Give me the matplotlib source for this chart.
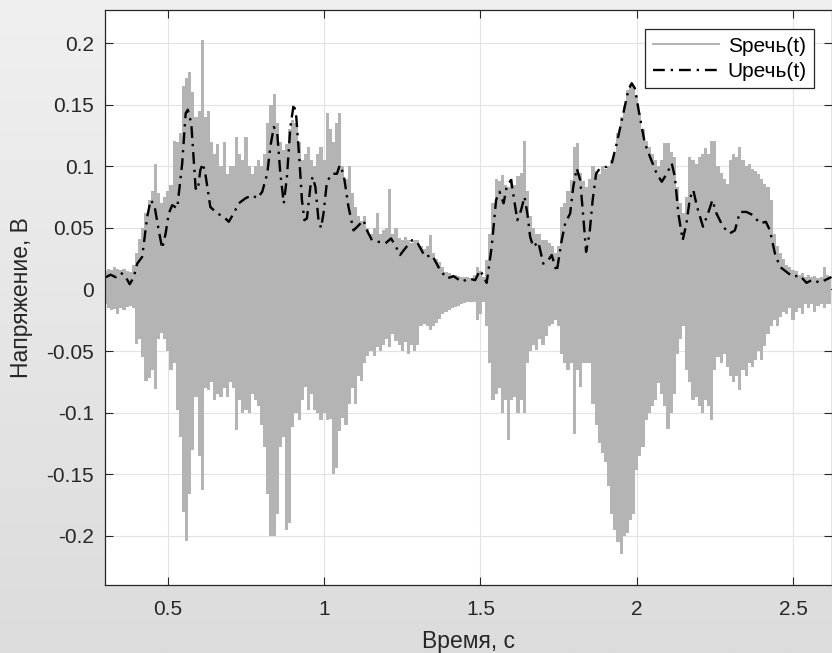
import numpy as np
import matplotlib
matplotlib.use('Agg')
import matplotlib.pyplot as plt
from matplotlib.colors import LinearSegmentedColormap

plt.rcParams['font.family'] = ['Liberation Sans', 'DejaVu Sans']

# speech signal: positive / negative peak per 10 ms bin, starting at 0.30 s
t0, dt = 0.30, 0.01
s_hi = [
    0.015, 0.017, 0.016, 0.018, 0.017, 0.016, 0.017, 0.015, 0.014, 0.020,
    0.030, 0.041, 0.050, 0.062, 0.073, 0.080, 0.102, 0.078, 0.070, 0.075,
    0.080, 0.085, 0.121, 0.120, 0.127, 0.165, 0.172, 0.177, 0.160, 0.140,
    0.145, 0.203, 0.140, 0.145, 0.120, 0.110, 0.118, 0.100, 0.120, 0.094,
    0.100, 0.100, 0.124, 0.110, 0.105, 0.124, 0.100, 0.094, 0.100, 0.105,
    0.100, 0.110, 0.135, 0.150, 0.159, 0.135, 0.120, 0.113, 0.118, 0.130,
    0.138, 0.135, 0.120, 0.105, 0.110, 0.116, 0.105, 0.100, 0.110, 0.116,
    0.105, 0.143, 0.130, 0.120, 0.135, 0.143, 0.100, 0.090, 0.100, 0.078,
    0.067, 0.060, 0.056, 0.060, 0.050, 0.045, 0.050, 0.062, 0.045, 0.048,
    0.050, 0.082, 0.045, 0.050, 0.042, 0.040, 0.043, 0.040, 0.038, 0.040,
    0.040, 0.035, 0.033, 0.035, 0.044, 0.030, 0.025, 0.022, 0.018, 0.014,
    0.013, 0.012, 0.012, 0.011, 0.010, 0.010, 0.010, 0.009, 0.012, 0.018,
    0.015, 0.010, 0.024, 0.045, 0.070, 0.090, 0.088, 0.093, 0.085, 0.083,
    0.090, 0.085, 0.092, 0.095, 0.121, 0.080, 0.060, 0.050, 0.045, 0.045,
    0.040, 0.040, 0.038, 0.035, 0.030, 0.035, 0.067, 0.070, 0.080, 0.089,
    0.116, 0.119, 0.095, 0.088, 0.083, 0.090, 0.100, 0.096, 0.094, 0.100,
    0.098, 0.100, 0.105, 0.110, 0.127, 0.140, 0.149, 0.162, 0.167, 0.165,
    0.157, 0.143, 0.130, 0.121, 0.116, 0.110, 0.105, 0.100, 0.105, 0.119,
    0.119, 0.112, 0.108, 0.083, 0.070, 0.062, 0.075, 0.108, 0.105, 0.102,
    0.108, 0.110, 0.115, 0.110, 0.121, 0.121, 0.100, 0.095, 0.090, 0.086,
    0.105, 0.110, 0.108, 0.116, 0.105, 0.100, 0.102, 0.098, 0.096, 0.094,
    0.090, 0.086, 0.083, 0.073, 0.045, 0.035, 0.030, 0.025, 0.020, 0.018,
    0.016, 0.015, 0.012, 0.013, 0.010, 0.012, 0.010, 0.011, 0.009, 0.010,
    0.018, 0.012, 0.010,
]
s_lo = [
    -0.012, -0.015, -0.017, -0.016, -0.020, -0.015, -0.017, -0.014, -0.013, -0.015,
    -0.044, -0.040, -0.055, -0.074, -0.072, -0.065, -0.081, -0.040, -0.035, -0.040,
    -0.050, -0.065, -0.060, -0.098, -0.120, -0.181, -0.204, -0.166, -0.130, -0.087,
    -0.135, -0.163, -0.080, -0.082, -0.075, -0.090, -0.085, -0.087, -0.080, -0.087,
    -0.075, -0.080, -0.114, -0.090, -0.100, -0.098, -0.100, -0.085, -0.090, -0.095,
    -0.110, -0.128, -0.166, -0.200, -0.200, -0.182, -0.128, -0.120, -0.195, -0.190,
    -0.112, -0.100, -0.106, -0.090, -0.079, -0.098, -0.085, -0.098, -0.100, -0.106,
    -0.100, -0.106, -0.105, -0.150, -0.145, -0.115, -0.104, -0.110, -0.093, -0.080,
    -0.093, -0.070, -0.074, -0.060, -0.054, -0.050, -0.054, -0.047, -0.050, -0.045,
    -0.040, -0.047, -0.036, -0.042, -0.045, -0.050, -0.043, -0.052, -0.045, -0.050,
    -0.045, -0.030, -0.028, -0.030, -0.033, -0.030, -0.027, -0.024, -0.020, -0.018,
    -0.017, -0.015, -0.014, -0.013, -0.012, -0.011, -0.010, -0.010, -0.010, -0.025,
    -0.020, -0.010, -0.030, -0.060, -0.090, -0.085, -0.080, -0.100, -0.090, -0.122,
    -0.090, -0.087, -0.100, -0.090, -0.100, -0.060, -0.050, -0.045, -0.049, -0.040,
    -0.045, -0.038, -0.030, -0.028, -0.025, -0.030, -0.052, -0.060, -0.065, -0.060,
    -0.117, -0.065, -0.079, -0.060, -0.060, -0.060, -0.093, -0.110, -0.125, -0.133,
    -0.140, -0.160, -0.182, -0.195, -0.205, -0.215, -0.200, -0.198, -0.187, -0.182,
    -0.147, -0.135, -0.128, -0.106, -0.100, -0.095, -0.090, -0.076, -0.085, -0.095,
    -0.113, -0.100, -0.085, -0.052, -0.040, -0.030, -0.065, -0.075, -0.090, -0.087,
    -0.095, -0.100, -0.090, -0.095, -0.106, -0.065, -0.055, -0.060, -0.052, -0.063,
    -0.070, -0.075, -0.070, -0.082, -0.065, -0.070, -0.060, -0.063, -0.057, -0.050,
    -0.057, -0.046, -0.036, -0.030, -0.025, -0.030, -0.022, -0.018, -0.020, -0.015,
    -0.025, -0.018, -0.015, -0.020, -0.012, -0.015, -0.012, -0.018, -0.013, -0.012,
    -0.015, -0.012, -0.012,
]

# envelope Uречь(t)
u_t = [0.302, 0.317, 0.333, 0.349, 0.362, 0.378, 0.391, 0.402, 0.418, 0.434,
       0.445, 0.457, 0.471, 0.482, 0.493, 0.503, 0.514, 0.530, 0.546, 0.557,
       0.564, 0.575, 0.583, 0.589, 0.596, 0.604, 0.612, 0.620, 0.636, 0.658,
       0.679, 0.695, 0.711, 0.727, 0.748, 0.770, 0.786, 0.802, 0.818, 0.828,
       0.839, 0.850, 0.860, 0.871, 0.881, 0.892, 0.903, 0.911, 0.921, 0.929,
       0.937, 0.945, 0.956, 0.963, 0.972, 0.982, 0.990, 0.998, 1.009, 1.025,
       1.041, 1.050, 1.062, 1.078, 1.094, 1.110, 1.126, 1.137, 1.153, 1.174,
       1.196, 1.214, 1.227, 1.243, 1.259, 1.281, 1.297, 1.323, 1.345, 1.371,
       1.393, 1.414, 1.441, 1.462, 1.483, 1.499, 1.520, 1.536, 1.550, 1.561,
       1.574, 1.584, 1.598, 1.608, 1.618, 1.630, 1.641, 1.650, 1.659, 1.669,
       1.685, 1.701, 1.717, 1.728, 1.744, 1.760, 1.771, 1.787, 1.797, 1.808,
       1.819, 1.829, 1.838, 1.849, 1.859, 1.870, 1.882, 1.904, 1.920, 1.936,
       1.957, 1.973, 1.984, 1.994, 2.010, 2.026, 2.042, 2.064, 2.080, 2.096,
       2.112, 2.122, 2.133, 2.147, 2.159, 2.170, 2.181, 2.193, 2.212, 2.228,
       2.242, 2.255, 2.276, 2.297, 2.314, 2.330, 2.351, 2.372, 2.394, 2.413,
       2.426, 2.442, 2.458, 2.479, 2.500, 2.521, 2.543, 2.564, 2.585, 2.606,
       2.623]
u_v = [0.010, 0.012, 0.010, 0.0135, 0.0116, 0.0043, 0.010, 0.021, 0.0265, 0.059,
       0.0726, 0.0685, 0.048, 0.0333, 0.0455, 0.0618, 0.0685, 0.066, 0.1024, 0.143,
       0.146, 0.135, 0.105, 0.082, 0.0807, 0.097, 0.1024, 0.094, 0.067, 0.0618,
       0.059, 0.055, 0.062, 0.070, 0.074, 0.0767, 0.074, 0.0794, 0.094, 0.116,
       0.132, 0.127, 0.094, 0.070, 0.0915, 0.132, 0.151, 0.140, 0.105, 0.0726,
       0.0563, 0.0577, 0.0834, 0.0915, 0.0834, 0.0563, 0.050, 0.0618, 0.0875, 0.094,
       0.094, 0.101, 0.094, 0.067, 0.048, 0.052, 0.0563, 0.048, 0.040, 0.0387,
       0.0374, 0.0415, 0.036, 0.028, 0.0333, 0.040, 0.0387, 0.0265, 0.028, 0.0157,
       0.009, 0.0108, 0.0062, 0.009, 0.0076, 0.0157, 0.0054, 0.0346, 0.0726, 0.0794,
       0.070, 0.0834, 0.089, 0.0726, 0.0563, 0.0645, 0.0753, 0.0618, 0.0428, 0.0346,
       0.0387, 0.021, 0.0238, 0.028, 0.0143, 0.040, 0.0537, 0.0618, 0.0834, 0.0984,
       0.089, 0.059, 0.0306, 0.0455, 0.0726, 0.094, 0.0984, 0.0997, 0.1024, 0.1187,
       0.143, 0.162, 0.1675, 0.1634, 0.140, 0.1187, 0.108, 0.094, 0.0875, 0.094,
       0.1024, 0.0915, 0.0618, 0.040, 0.0537, 0.074, 0.0807, 0.067, 0.051, 0.0618,
       0.0726, 0.0618, 0.051, 0.0455, 0.048, 0.063, 0.063, 0.0604, 0.0537, 0.055,
       0.048, 0.0293, 0.0184, 0.0143, 0.0102, 0.0116, 0.0054, 0.0081, 0.0054, 0.0081,
       0.0102]

x_ticks = [0.5, 1, 1.5, 2, 2.5]
x_labels = ['0.5', '1', '1.5', '2', '2.5']
y_ticks = [-0.2, -0.15, -0.1, -0.05, 0, 0.05, 0.1, 0.15, 0.2]
y_labels = ['-0.2', '-0.15', '-0.1', '-0.05', '0', '0.05', '0.1', '0.15', '0.2']

assert len(s_hi) == len(s_lo)
assert len(u_t) == len(u_v)

grey = '#b4b4b4'
fig = plt.figure(figsize=(8.32, 6.53), dpi=100)

# grey gradient background like the MATLAB figure window
bg = fig.add_axes([0, 0, 1, 1], zorder=-10)
bg.imshow(np.linspace(0, 1, 256).reshape(-1, 1), aspect='auto', extent=[0, 1, 0, 1],
          cmap=LinearSegmentedColormap.from_list('bg', ['#f0f0f0', '#dcdcdc']))
bg.axis('off')

ax = fig.add_axes([105.3 / 832, 1 - 585 / 653, (831.5 - 105.3) / 832, 575 / 653])

# waveform: each 10 ms bin filled from its negative to its positive peak
t = t0 + dt * np.arange(len(s_hi))
ax.fill_between(t, s_lo, s_hi, step='mid', color=grey, lw=0)
ax.plot([], [], color=grey, lw=1.5, label='Sречь(t)')
ax.plot(u_t, u_v, color='black', lw=1.7, ls=(0, (5, 2.5, 1, 2.5)), label='Uречь(t)')

ax.set_xlim(0.3, 2.623)
ax.set_ylim(-0.24, 0.227)
ax.set_xticks(x_ticks)
ax.set_xticklabels(x_labels)
ax.set_yticks(y_ticks)
ax.set_yticklabels(y_labels)
ax.grid(True, color='#e3e3e3', lw=0.8)
ax.set_axisbelow(True)
ax.tick_params(direction='in', length=5.5, width=0.8, top=True, right=True,
               colors='#262626', labelsize=15)
ax.tick_params(axis='y', pad=8)
ax.tick_params(axis='x', pad=11)
for s in ax.spines.values():
    s.set_color('#262626')
    s.set_linewidth(0.9)

ax.set_xlabel('Время, с', fontsize=16.5, color='#262626', labelpad=8)
ax.set_ylabel('Напряжение, В', fontsize=16.5, color='#262626', labelpad=10)

leg = ax.legend(loc='upper right', bbox_to_anchor=(0.9759, 0.9664), borderaxespad=0,
                fontsize=15, handlelength=3.2, handletextpad=0.4, fancybox=False,
                framealpha=1, edgecolor='#262626', borderpad=0.35, labelspacing=0.3)
leg.get_frame().set_linewidth(0.9)

fig.savefig('out.png', dpi=100)
